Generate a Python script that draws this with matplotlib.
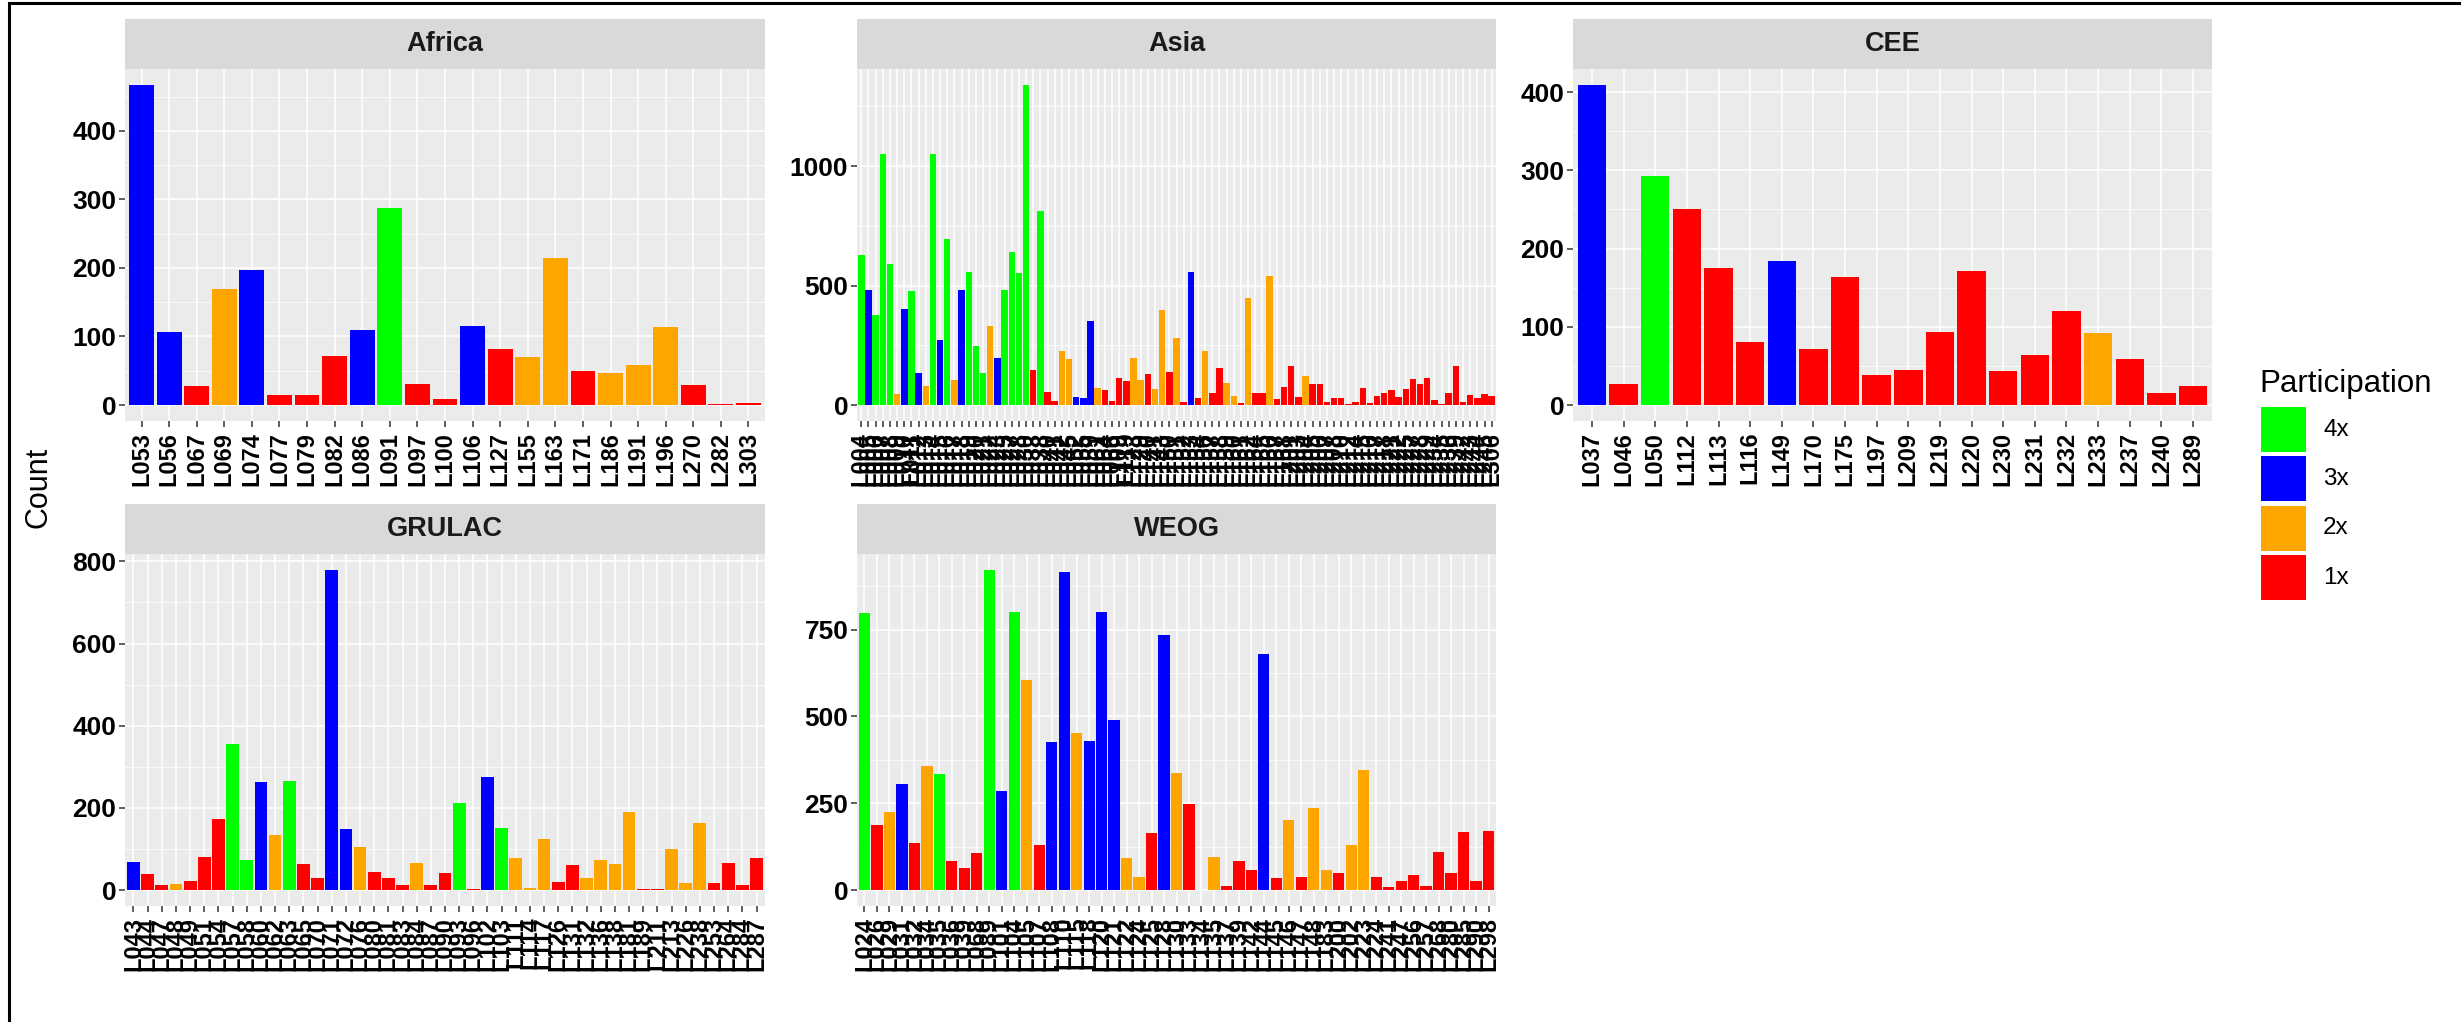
import matplotlib
matplotlib.use("Agg")
import matplotlib.pyplot as plt
from matplotlib.patches import Rectangle
from matplotlib.ticker import MultipleLocator, FuncFormatter

plt.rcParams["font.family"] = ["Liberation Sans", "DejaVu Sans"]

# ---------------- data ----------------
africa_ids = ["L053", "L056", "L067", "L069", "L074", "L077", "L079", "L082", "L086", "L091",
              "L097", "L100", "L106", "L127", "L155", "L163", "L171", "L186", "L191", "L196",
              "L270", "L282", "L303"]
africa_counts = [467, 107, 28, 169, 197, 15, 15, 71, 110, 288,
                 31, 9, 115, 82, 70, 214, 49, 46, 58, 114,
                 29, 2, 3]
africa_part = ["3x", "3x", "1x", "2x", "3x", "1x", "1x", "1x", "3x", "4x",
               "1x", "1x", "3x", "1x", "2x", "2x", "1x", "2x", "2x", "2x",
               "1x", "1x", "1x"]

asia_ids = ["L004", "L005", "L006", "L007", "L008", "L009", "L010", "L011", "L012", "L013",
            "L014", "L015", "L016", "L017", "L018", "L019", "L020", "L021", "L022", "L023",
            "L025", "L027", "L028", "L030", "L033", "L038", "L040", "L041", "L042", "L045",
            "L052", "L055", "L059", "L061", "L064", "L066",
            "L109", "L119", "L123", "L129", "L140", "L141", "L143", "L150", "L151", "L152",
            "L153", "L154", "L156", "L157", "L158", "L159", "L160", "L161", "L162", "L164",
            "L165", "L166", "L167", "L168",
            "L201", "L203", "L204", "L205", "L206", "L207", "L208", "L210", "L212", "L214",
            "L215", "L216", "L217", "L218", "L221", "L222", "L225", "L227", "L228", "L229",
            "L234", "L235", "L236", "L239", "L242", "L243", "L244", "L245", "L306"]
asia_counts = [629, 481, 376, 1050, 591, 46, 404, 477, 136, 81,
               1050, 271, 696, 105, 481, 557, 246, 133, 330, 196,
               481, 639, 552, 1340, 147, 811, 53, 15, 226, 191,
               35, 29, 352, 72, 63, 18, 112, 102, 196, 105,
               131, 65, 397, 138, 281, 14, 557, 29, 226, 51,
               156, 91, 36, 10, 450, 49, 52, 540, 26, 74,
               164, 35, 121, 86, 90, 14, 28, 28, 3, 14,
               70, 10, 38, 52, 63, 35, 65, 107, 90, 111,
               21, 4, 52, 164, 14, 42, 28, 45, 38]
asia_part = ["4x", "3x", "4x", "4x", "4x", "2x", "3x", "4x", "3x", "2x",
             "4x", "3x", "4x", "2x", "3x", "4x", "4x", "4x", "2x", "3x",
             "4x", "4x", "4x", "4x", "1x", "4x", "1x", "1x", "2x", "2x",
             "3x", "3x", "3x", "2x", "1x", "1x", "1x", "1x", "2x", "2x",
             "1x", "2x", "2x", "1x", "2x", "1x", "3x", "1x", "2x", "1x",
             "1x", "2x", "2x", "1x", "2x", "1x", "1x", "2x", "1x", "1x",
             "1x", "1x", "2x", "1x", "1x", "1x", "1x", "1x", "1x", "1x",
             "1x", "1x", "1x", "1x", "1x", "1x", "1x", "1x", "1x", "1x",
             "1x", "1x", "1x", "1x", "1x", "1x", "1x", "1x", "1x"]

cee_ids = ["L037", "L046", "L050", "L112", "L113", "L116", "L149", "L170", "L175", "L197",
           "L209", "L219", "L220", "L230", "L231", "L232", "L233", "L237", "L240", "L289"]
cee_counts = [409, 27, 293, 250, 175, 80, 184, 71, 163, 38,
              45, 93, 171, 44, 64, 120, 92, 59, 15, 24]
cee_part = ["3x", "1x", "4x", "1x", "1x", "1x", "3x", "1x", "1x", "1x",
            "1x", "1x", "1x", "1x", "1x", "1x", "2x", "1x", "1x", "1x"]

grulac_ids = ["L043", "L044", "L047", "L048", "L049", "L051", "L054", "L057", "L058", "L060",
              "L062", "L063", "L065", "L070", "L071", "L072", "L076", "L080", "L081", "L083",
              "L084", "L087", "L090", "L093", "L096",
              "L102", "L103", "L111", "L114", "L117", "L126", "L131", "L132", "L136", "L138",
              "L181", "L189",
              "L211", "L213", "L226", "L238", "L253", "L264", "L284", "L287"]
grulac_counts = [68, 38, 13, 14, 22, 81, 173, 355, 73, 263,
                 135, 265, 64, 30, 779, 149, 105, 45, 28, 13,
                 66, 11, 42, 213, 2, 274, 151, 77, 6, 124,
                 19, 61, 29, 73, 63, 189, 3, 3, 100, 18,
                 163, 18, 65, 12, 77]
grulac_part = ["3x", "1x", "1x", "2x", "1x", "1x", "1x", "4x", "4x", "3x",
               "2x", "4x", "1x", "1x", "3x", "3x", "2x", "1x", "1x", "1x",
               "2x", "1x", "1x", "4x", "1x", "3x", "4x", "2x", "2x", "2x",
               "1x", "1x", "2x", "2x", "2x", "2x", "1x", "1x", "2x", "2x",
               "2x", "1x", "1x", "1x", "1x"]

weog_ids = ["L024", "L026", "L029", "L031", "L032", "L034", "L035", "L036", "L039", "L068",
            "L089",
            "L101", "L104", "L105", "L107", "L108", "L110", "L115", "L118", "L120", "L121",
            "L122", "L124", "L125", "L128", "L130", "L133", "L134", "L135", "L137", "L139",
            "L142", "L144", "L145", "L146", "L147", "L148", "L183",
            "L200", "L202", "L223", "L224", "L241", "L247", "L256", "L257", "L268", "L280",
            "L285", "L290", "L298"]
weog_counts = [797, 186, 224, 306, 134, 357, 334, 84, 63, 108,
               922, 286, 801, 605, 131, 426, 915, 453, 428, 802,
               490, 91, 38, 164, 734, 338, 247, 1, 94, 12,
               83, 59, 679, 35, 202, 37, 237, 57, 50, 129,
               345, 37, 10, 25, 42, 12, 109, 49, 166, 25,
               171]
weog_part = ["4x", "1x", "2x", "3x", "1x", "2x", "4x", "1x", "1x", "1x",
             "4x", "3x", "4x", "2x", "1x", "3x", "3x", "2x", "3x", "3x",
             "3x", "2x", "2x", "1x", "3x", "2x", "1x", "2x", "2x", "1x",
             "1x", "1x", "3x", "1x", "2x", "1x", "2x", "2x", "1x", "2x",
             "2x", "1x", "1x", "1x", "1x", "1x", "1x", "1x", "1x", "1x",
             "1x"]

levels = ["4x", "3x", "2x", "1x"]
level_colors = {"4x": "#00FF00", "3x": "#0000FF", "2x": "#FFA500", "1x": "#FF0000"}

# ---------------- layout (pixels) ----------------
W, H, DPI = 2461, 1022, 100
COLS = [(125, 765), (857, 1496), (1573, 2212)]
ROWS = [(69, 421), (554, 906)]
STRIP_H = 50

facets = [
    ("Africa", 0, 0, africa_ids, africa_counts, africa_part, 100),
    ("Asia", 0, 1, asia_ids, asia_counts, asia_part, 500),
    ("CEE", 0, 2, cee_ids, cee_counts, cee_part, 100),
    ("GRULAC", 1, 0, grulac_ids, grulac_counts, grulac_part, 200),
    ("WEOG", 1, 1, weog_ids, weog_counts, weog_part, 250),
]

PANEL_BG = "#EBEBEB"
STRIP_BG = "#D9D9D9"
TICK_COL = "#333333"


def rect(x0, x1, y0, y1):
    return [x0 / W, 1 - y1 / H, (x1 - x0) / W, (y1 - y0) / H]


fig = plt.figure(figsize=(W / DPI, H / DPI), dpi=DPI)
fig.patch.set_facecolor("white")

for name, r, c, ids, counts, part, step in facets:
    x0, x1 = COLS[c]
    y0, y1 = ROWS[r]
    ax = fig.add_axes(rect(x0, x1, y0, y1))
    ax.set_facecolor(PANEL_BG)
    pos = list(range(len(ids)))
    ax.bar(pos, counts, width=0.9, color=[level_colors[p] for p in part],
           edgecolor="none", zorder=3)
    top = max(counts)
    ax.set_ylim(-0.05 * top, 1.05 * top)
    ax.set_xlim(-0.6, len(ids) - 0.4)
    ax.set_xticks(pos)
    ax.set_xticklabels(ids, rotation=90, fontsize=17, fontweight="bold",
                       ha="center", va="top")
    ax.yaxis.set_major_locator(MultipleLocator(step))
    ax.yaxis.set_minor_locator(MultipleLocator(step / 2))
    ax.yaxis.set_major_formatter(FuncFormatter(lambda v, _: f"{int(round(v))}"))
    for lab in ax.get_yticklabels():
        lab.set_fontweight("bold")
    ax.tick_params(axis="both", which="major", color=TICK_COL, length=4.3, width=1.1,
                   labelcolor="black")
    ax.tick_params(axis="y", which="major", pad=2.0, labelsize=19)
    ax.tick_params(axis="x", which="major", pad=3.5)
    ax.tick_params(which="minor", length=0)
    ax.grid(which="major", color="white", linewidth=1.15, zorder=0)
    ax.grid(which="minor", axis="y", color="white", linewidth=0.55, zorder=0)
    ax.set_axisbelow(True)
    for sp in ax.spines.values():
        sp.set_visible(False)

    # facet strip
    sax = fig.add_axes(rect(x0, x1, y0 - STRIP_H, y0))
    sax.set_facecolor(STRIP_BG)
    sax.set_xticks([])
    sax.set_yticks([])
    for sp in sax.spines.values():
        sp.set_visible(False)
    sax.text(0.5, 0.5, name, transform=sax.transAxes, ha="center", va="center",
             fontsize=19.5, fontweight="bold", color="#1A1A1A")

# shared y-axis title
fig.text(38 / W, 1 - 487 / H, "Count", rotation=90, ha="center", va="center",
         fontsize=22, color="black")

# legend drawn on an overlay in pixel units
lax = fig.add_axes([0, 0, 1, 1], facecolor="none")
lax.set_xlim(0, W)
lax.set_ylim(H, 0)
lax.axis("off")
KEY_X, KEY_TOP, KEY_SIZE, KEY_PITCH = 2261, 407, 45, 49.5
lax.text(2259, 384, "Participation", ha="left", va="center", fontsize=22.5, color="black")
for i, lvl in enumerate(levels):
    ky = KEY_TOP + i * KEY_PITCH
    lax.add_patch(Rectangle((KEY_X, ky), KEY_SIZE, KEY_SIZE,
                            facecolor=level_colors[lvl], edgecolor="none"))
    lax.text(KEY_X + KEY_SIZE + 17, ky + KEY_SIZE / 2, lvl, ha="left", va="center",
             fontsize=17.5, color="black")

# outer frame
fig.patches.append(Rectangle((9 / W, -0.05), 1.1, 1.05 - 3 / H, transform=fig.transFigure,
                             fill=False, edgecolor="black", linewidth=2.2))

fig.savefig("out.png", dpi=DPI)
